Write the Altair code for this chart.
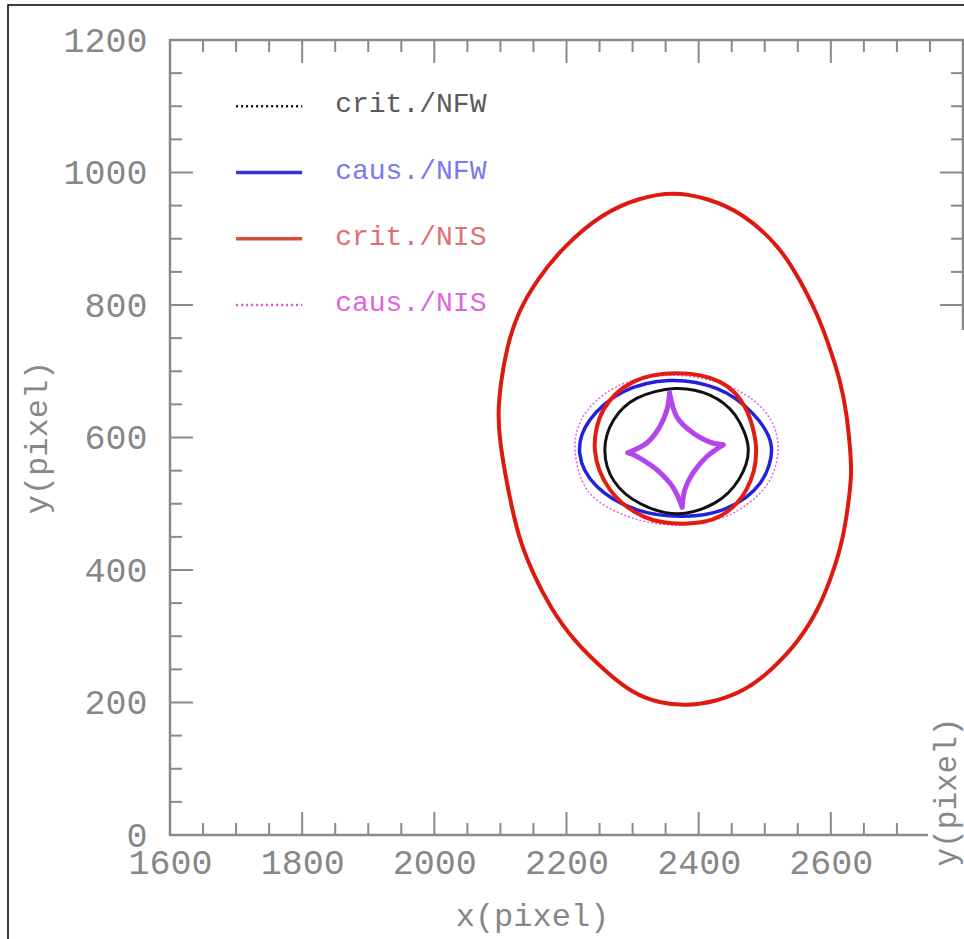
import altair as alt
import pandas as pd

# ---------------- data ----------------
# large outer critical curve (crit./NIS)
big_x = [2311, 2361, 2412, 2467, 2523, 2553, 2579, 2598, 2614, 2624, 2629, 2632, 2626, 2618,
         2603, 2583, 2553, 2510, 2469, 2424, 2382, 2341, 2300, 2261, 2210, 2175, 2149, 2129,
         2117, 2107, 2099, 2096, 2101, 2110, 2126, 2155, 2195, 2255]
big_y = [962, 971, 962, 939, 888, 838, 788, 737, 687, 637, 586, 546, 495, 445,
         395, 344, 294, 248, 217, 201, 195, 199, 214, 245, 294, 344, 395, 445,
         495, 546, 596, 637, 687, 737, 788, 838, 888, 939]

# inner critical curve NIS (red)
rin_x = [2367, 2432, 2470, 2487, 2472, 2432, 2377, 2316, 2266, 2243, 2256, 2301]
rin_y = [697, 684, 646, 581, 521, 481, 470, 481, 521, 581, 642, 684]

# caustic NFW (blue)
blu_x = [2356, 2427, 2482, 2510, 2493, 2442, 2377, 2306, 2246, 2220, 2235, 2286]
blu_y = [686, 674, 636, 586, 531, 493, 481, 491, 526, 576, 626, 669]

# caustic NIS (magenta dotted)
mag_x = [2361, 2442, 2498, 2520, 2505, 2452, 2381, 2301, 2235, 2213, 2228, 2281]
mag_y = [694, 679, 642, 591, 531, 486, 468, 478, 516, 581, 636, 679]

# critical curve NFW (black)
blk_x = [2364, 2417, 2455, 2475, 2461, 2424, 2368, 2312, 2272, 2258, 2271, 2306]
blk_y = [674, 664, 634, 584, 537, 501, 485, 500, 534, 580, 626, 659]

# astroid caustic, four edges cusp to cusp
ast_edges = [
    ([2356, 2367, 2391, 2417, 2437], [667, 631, 607, 593, 589]),
    ([2437, 2412, 2391, 2379, 2375], [589, 571, 546, 521, 495]),
    ([2375, 2361, 2337, 2311, 2293], [495, 525, 551, 569, 577]),
    ([2293, 2322, 2341, 2352, 2356], [577, 592, 616, 642, 667]),
]

# legend
leg_labels = ["crit./NFW", "caus./NFW", "crit./NIS", "caus./NIS"]
leg_y = [1100, 1000, 900, 800]
leg_x0, leg_x1, leg_tx = 1700, 1800, 1850

# axes
x_major = [1600, 1800, 2000, 2200, 2400, 2600, 2800]
x_labels = [1600, 1800, 2000, 2200, 2400, 2600]
y_major = [0, 200, 400, 600, 800, 1000, 1200]
x_minor = [v for v in range(1600, 2801, 50) if v % 200 != 0]
y_minor = [v for v in range(0, 1201, 50) if v % 200 != 0]

# ---------------- chart ----------------
W, H = 793, 795
FONT = "Liberation Mono"
GRAY = "#878787"

xs = alt.Scale(domain=[1600, 2800], nice=False, zero=False)
ys = alt.Scale(domain=[0, 1200], nice=False, zero=False)

xaxis = alt.Axis(values=x_labels, format="d", ticks=False, domain=False, grid=False,
                 labelFont=FONT, labelFontSize=35, labelColor=GRAY, labelPadding=10,
                 labelFlush=False, labelOverlap=False,
                 title="x(pixel)", titleFont=FONT, titleFontSize=32, titleFontWeight="normal",
                 titleColor=GRAY, titleX=362, titleY=80, titleBaseline="middle", titleAlign="center")
yaxis = alt.Axis(values=y_major, format="d", ticks=False, domain=False, grid=False,
                 labelFont=FONT, labelFontSize=35, labelColor=GRAY, labelPadding=23,
                 labelFlush=False, labelOverlap=False,
                 title="y(pixel)", titleFont=FONT, titleFontSize=32, titleFontWeight="normal",
                 titleColor=GRAY, titleX=-134, titleY=397, titleAngle=270,
                 titleBaseline="middle", titleAlign="center")


def closed_curve(xv, yv, color, width, interp, dash=None):
    df = pd.DataFrame({"x": xv, "y": yv, "i": list(range(len(xv)))})
    kw = dict(interpolate=interp, color=color, strokeWidth=width)
    if dash:
        kw["strokeDash"] = dash
    return alt.Chart(df).mark_line(**kw).encode(
        x=alt.X("x:Q", scale=xs, axis=xaxis),
        y=alt.Y("y:Q", scale=ys, axis=yaxis),
        order="i:Q",
    )


layers = []
layers.append(closed_curve(big_x, big_y, "#dd1a10", 4, "basis-closed"))
layers.append(closed_curve(mag_x, mag_y, "#e060e8", 1.5, "cardinal-closed", [2, 2]))
layers.append(closed_curve(blu_x, blu_y, "#2222dd", 3.5, "cardinal-closed"))
layers.append(closed_curve(rin_x, rin_y, "#e21c10", 4, "cardinal-closed"))
layers.append(closed_curve(blk_x, blk_y, "#111111", 3, "cardinal-closed"))

rows = []
for k, (ex, ey) in enumerate(ast_edges):
    for j, (a, b) in enumerate(zip(ex, ey)):
        rows.append({"x": a, "y": b, "e": k, "i": j})
ast_df = pd.DataFrame(rows)
layers.append(alt.Chart(ast_df).mark_line(interpolate="cardinal", color="#b444ee",
                                          strokeWidth=5, strokeCap="round").encode(
    x=alt.X("x:Q", scale=xs, axis=xaxis), y=alt.Y("y:Q", scale=ys, axis=yaxis),
    detail="e:N", order="i:Q"))

# legend samples
leg_colors = ["#111111", "#3333dd", "#d84a3a", "#e050e0"]
leg_text_colors = ["#5a5a5a", "#7a7aee", "#e07070", "#dd66dd"]
leg_dash = [[2, 3], [1, 0], [1, 0], [2, 3]]
leg_w = [2.5, 3.5, 3.5, 2.5]
for lab, yy, c, tc, d, w in zip(leg_labels, leg_y, leg_colors, leg_text_colors, leg_dash, leg_w):
    ldf = pd.DataFrame({"x": [leg_x0], "x2": [leg_x1], "y": [yy], "t": [lab], "tx": [leg_tx]})
    layers.append(alt.Chart(ldf).mark_rule(color=c, strokeWidth=w, strokeDash=d).encode(
        x=alt.X("x:Q", scale=xs, axis=xaxis), x2="x2:Q", y=alt.Y("y:Q", scale=ys, axis=yaxis)))
    layers.append(alt.Chart(ldf).mark_text(font=FONT, fontSize=28, color=tc, align="left",
                                           baseline="middle", dy=-2).encode(
        x=alt.X("tx:Q", scale=xs, axis=xaxis), y=alt.Y("y:Q", scale=ys, axis=yaxis), text="t:N"))

# inward ticks on all sides
TC = "#8a8a8a"
def xticks(vals, length):
    df = pd.DataFrame({"v": vals})
    bot = alt.Chart(df).mark_rule(color=TC, strokeWidth=2).encode(
        x=alt.X("v:Q", scale=xs, axis=xaxis), y=alt.value(H), y2=alt.value(H - length))
    top = alt.Chart(df).mark_rule(color=TC, strokeWidth=2).encode(
        x=alt.X("v:Q", scale=xs, axis=xaxis), y=alt.value(0), y2=alt.value(length))
    return [bot, top]

def yticks(vals, length):
    df = pd.DataFrame({"v": vals})
    left = alt.Chart(df).mark_rule(color=TC, strokeWidth=2).encode(
        y=alt.Y("v:Q", scale=ys, axis=yaxis), x=alt.value(0), x2=alt.value(length))
    right = alt.Chart(df).mark_rule(color=TC, strokeWidth=2).encode(
        y=alt.Y("v:Q", scale=ys, axis=yaxis), x=alt.value(W), x2=alt.value(W - length))
    return [left, right]

layers += xticks(x_major, 23) + xticks(x_minor, 12) + yticks(y_major, 23) + yticks(y_minor, 12)

# neighbouring panel's edge that covers the lower right corner of the figure
neighbour = pd.DataFrame({"t": ["y(pixel)"]})
layers.append(alt.Chart(neighbour).mark_rect(color="white").encode(
    x=alt.value(758), x2=alt.value(800), y=alt.value(290), y2=alt.value(900)))
layers.append(alt.Chart(neighbour).mark_text(font=FONT, fontSize=31, color=GRAY, angle=270,
                                             align="center", baseline="middle").encode(
    x=alt.value(777), y=alt.value(752), text="t:N"))

# outer black frame of the figure
layers.append(alt.Chart(neighbour).mark_rect(fill=None, stroke="black", strokeWidth=1.5).encode(
    x=alt.value(-162), x2=alt.value(900), y=alt.value(-35), y2=alt.value(1000)))

chart = alt.layer(*layers).properties(
    width=W, height=H,
    autosize=alt.AutoSizeParams(type="none"),
    padding={"left": 170, "top": 40, "right": 1, "bottom": 104},
    background="white",
).configure_view(stroke="#8a8a8a", strokeWidth=2.5)

chart.save("out.html", embed_options={"renderer": "svg", "actions": False})
